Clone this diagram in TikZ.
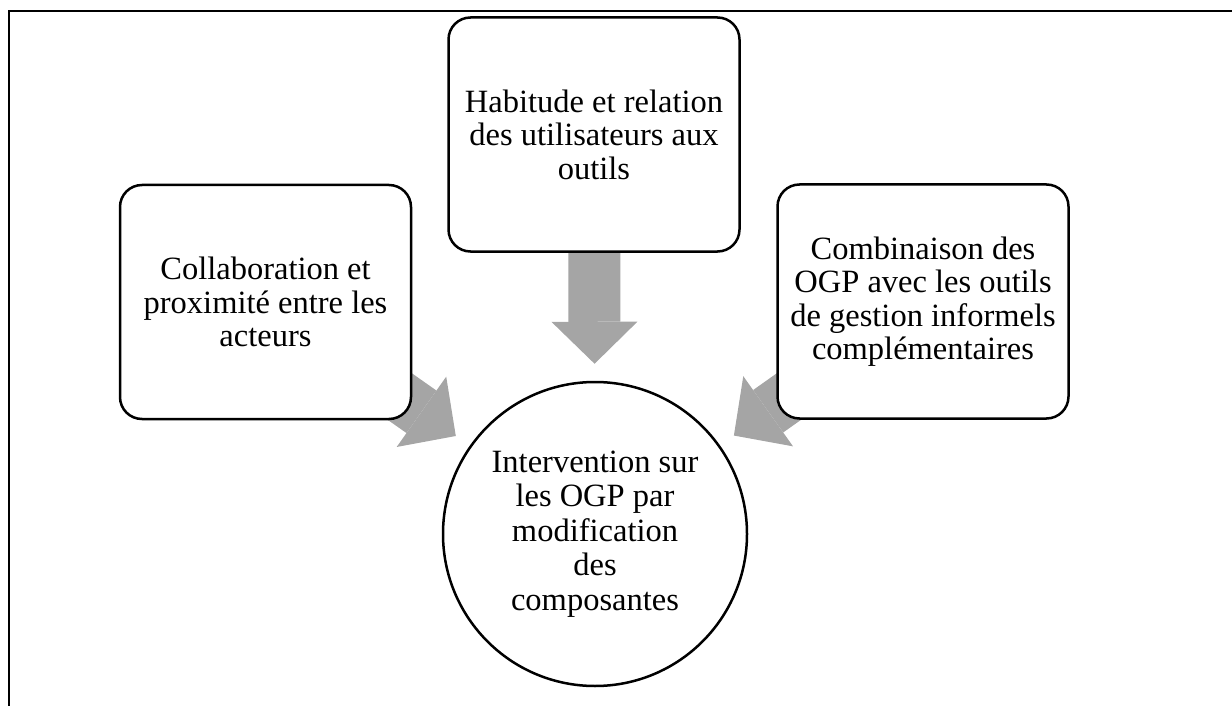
\documentclass[tikz,border=0pt]{standalone}
\usepackage{fontspec}
\setmainfont{Liberation Serif}
\usetikzlibrary{arrows.meta,backgrounds}
\definecolor{arrowgray}{HTML}{A5A5A5}

\begin{document}
\begin{tikzpicture}[x=1pt,y=-1pt,
    facteur/.style={draw,line width=2.5pt,fill=white,rounded corners=22pt,
        minimum width=291pt,minimum height=234pt,align=center,
        font=\fontsize{32.5}{33.5}\selectfont},
    resultat/.style={circle,draw,line width=2.5pt,fill=white,minimum size=304pt,
        inner sep=0pt,align=center,font=\fontsize{32.5}{34.5}\selectfont},
    fleche/.style={arrowgray,line width=52pt,shorten >=17pt,
        -{Triangle[length=42pt,width=86pt,line width=0pt]}}]
\useasboundingbox (0,0) rectangle (1232,706);
\draw[line width=2.5pt] (1232,11) -- (9,11) -- (9,706);

\node[facteur] (collab) at (265.5,302) {Collaboration et\\proximité entre les\\acteurs};
\node[facteur] (habitude) at (594,134.5) {Habitude et relation\\des utilisateurs aux\\outils};
\node[facteur] (combi) at (923,301.5) {Combinaison des\\OGP avec les outils\\de gestion informels\\complémentaires};
\node[resultat] (interv) at (595,534) {Intervention sur\\les OGP par\\modification\\des\\composantes};

\begin{scope}[on background layer]
    \draw[fleche] (collab.center) -- (interv);
    \draw[fleche] (habitude.center) -- (interv);
    \draw[fleche] (combi.center) -- (interv);
\end{scope}
\end{tikzpicture}
\end{document}
